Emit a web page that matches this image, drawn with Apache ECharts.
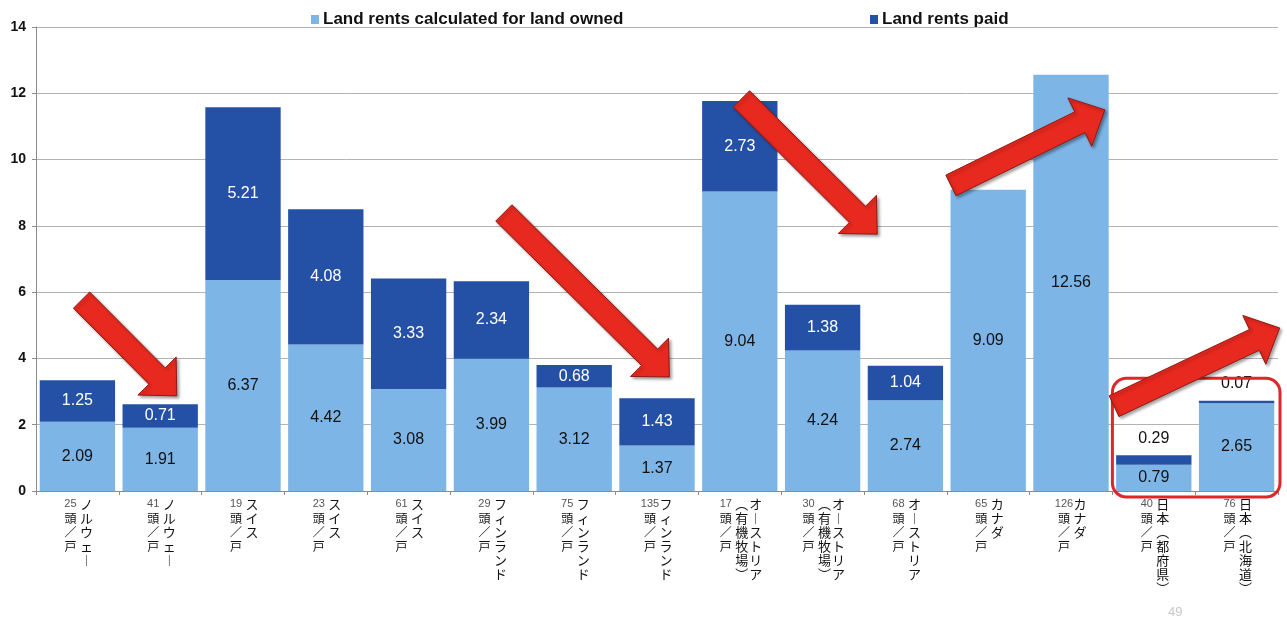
<!DOCTYPE html>
<html>
<head>
<meta charset="utf-8">
<script src="https://cdn.jsdelivr.net/npm/echarts@6/dist/echarts.min.js"></script>
<style>
  html, body { margin: 0; padding: 0; background: #ffffff; }
  #main { width: 1287px; height: 640px; }
</style>
</head>
<body>
<div id="main"></div>
<script>
// Herd size (head per farm) and country for each bar
const herds = ['25', '41', '19', '23', '61', '29', '75', '135', '17', '30', '68', '65', '126', '40', '76'];
const countries = ['ノルウェー', 'ノルウェー', 'スイス', 'スイス', 'スイス', 'フィンランド', 'フィンランド', 'フィンランド',
  'オーストリア', 'オーストリア', 'オーストリア', 'カナダ', 'カナダ', '日本（都府県）', '日本（北海道）'];
const notes = ['', '', '', '', '', '', '', '', '（有機牧場）', '（有機牧場）', '', '', '', '', ''];

// Land rents per unit
const landOwned = [2.09, 1.91, 6.37, 4.42, 3.08, 3.99, 3.12, 1.37, 9.04, 4.24, 2.74, 9.09, 12.56, 0.79, 2.65];
const rentsPaid = [1.25, 0.71, 5.21, 4.08, 3.33, 2.34, 0.68, 1.43, 2.73, 1.38, 1.04, 0, 0, 0.29, 0.07];

const seriesNames = ['Land rents calculated for land owned', 'Land rents paid'];
const yMin = 0, yMax = 14, yStep = 2;

// Thin segments whose value is written above the bar
const labelAbove = [13, 14];

// Trend arrows: [category position, value] of tail and tip
const arrows = [
  { from: [0.05, 5.76], to: [1.2, 2.87] },
  { from: [5.15, 8.39], to: [7.15, 3.44] },
  { from: [8.02, 11.83], to: [9.66, 7.75] },
  { from: [10.55, 9.22], to: [12.41, 11.5] },
  { from: [12.52, 2.56], to: [14.52, 4.92] }
];

const categories = herds.map((h, i) => h + '頭／戸 ' + countries[i] + notes[i]);

// Vertical presentation forms for stacked Japanese text
const VERT = { 'ー': '︱', '（': '︵', '）': '︶' };
const toCol = s => Array.from(s).map(c => VERT[c] || c);

function verticalLabel(i) {
  const numCol = [herds[i], '頭', '／', '戸'];
  const noteCol = toCol(notes[i]);
  const nameCol = toCol(countries[i]);
  const rows = Math.max(numCol.length, noteCol.length, nameCol.length);
  const lines = [];
  for (let k = 0; k < rows; k++) {
    let s = k === 0 ? '{num|' + numCol[0] + '}' : '{unit|' + (numCol[k] || ' ') + '}';
    if (noteCol.length) s += '{note|' + (noteCol[k] || ' ') + '}';
    s += '{name|' + (nameCol[k] || ' ') + '}';
    lines.push(s);
  }
  return lines.join('\n');
}

const chart = echarts.init(document.getElementById('main'));
const jp = '"Noto Sans CJK JP", sans-serif';
const latin = '"Liberation Sans", Arial, sans-serif';

const valueFmt = p => (p.value ? Number(p.value).toFixed(2) : '');

const legendText = { fontFamily: latin, fontWeight: 'bold', fontSize: 17, color: '#111', padding: [0, 0, 0, -1] };

chart.setOption({
  backgroundColor: '#ffffff',
  animation: false,
  color: ['#7db5e6', '#2451a6'],
  legend: [
    {
      left: 306, top: 6, itemWidth: 8, itemHeight: 9, icon: 'rect',
      data: [seriesNames[0]], textStyle: legendText
    },
    {
      left: 865, top: 6, itemWidth: 8, itemHeight: 9, icon: 'rect',
      data: [seriesNames[1]], textStyle: legendText
    }
  ],
  grid: { left: 36, right: 9, top: 27, bottom: 149, containLabel: false },
  xAxis: {
    type: 'category',
    data: categories,
    axisLine: { lineStyle: { color: '#8c8c8c' } },
    axisTick: { show: true, length: 4, lineStyle: { color: '#8c8c8c' } },
    axisLabel: {
      interval: 0,
      margin: 6,
      formatter: (v, i) => verticalLabel(i),
      rich: {
        num: { fontFamily: latin, fontSize: 11, color: '#555', width: 18, align: 'center', lineHeight: 14 },
        unit: { fontFamily: jp, fontSize: 12, color: '#111', width: 18, align: 'center', lineHeight: 14 },
        note: { fontFamily: jp, fontSize: 13, color: '#111', width: 14, align: 'center', lineHeight: 14 },
        name: { fontFamily: jp, fontSize: 13, color: '#111', width: 14, align: 'center', lineHeight: 14 }
      }
    }
  },
  yAxis: {
    type: 'value',
    min: yMin, max: yMax, interval: yStep,
    axisLine: { show: true, lineStyle: { color: '#8c8c8c' } },
    axisTick: { show: true, length: 4, lineStyle: { color: '#8c8c8c' } },
    axisLabel: { fontFamily: latin, fontWeight: 'bold', fontSize: 14, color: '#111', margin: 10 },
    splitLine: { lineStyle: { color: '#b3b3b3' } }
  },
  series: [
    {
      name: seriesNames[0],
      type: 'bar',
      stack: 'rent',
      barCategoryGap: '9%',
      data: landOwned,
      label: {
        show: true, position: 'inside', formatter: valueFmt,
        fontFamily: latin, fontSize: 16, color: '#111'
      }
    },
    {
      name: seriesNames[1],
      type: 'bar',
      stack: 'rent',
      barCategoryGap: '9%',
      data: rentsPaid.map((v, i) => labelAbove.includes(i)
        ? { value: v, label: { position: 'top', color: '#111', distance: 9 } }
        : v),
      label: {
        show: true, position: 'inside', formatter: valueFmt,
        fontFamily: latin, fontSize: 16, color: '#ffffff'
      }
    }
  ]
});

// Overlay: trend arrows, highlight frame around the Japan bars, page number
function arrowPoints(tail, tip) {
  const dx = tip[0] - tail[0], dy = tip[1] - tail[1];
  const len = Math.hypot(dx, dy);
  const ux = dx / len, uy = dy / len;
  const nx = -uy, ny = ux;
  const sw = 11.5, hw = 27, hl = 28;
  const bx = tip[0] - ux * hl, by = tip[1] - uy * hl;
  return [
    [tail[0] + nx * sw, tail[1] + ny * sw],
    [bx + nx * sw, by + ny * sw],
    [bx + nx * hw, by + ny * hw],
    [tip[0], tip[1]],
    [bx - nx * hw, by - ny * hw],
    [bx - nx * sw, by - ny * sw],
    [tail[0] - nx * sw, tail[1] - ny * sw]
  ];
}

function drawOverlay() {
  const x0 = chart.convertToPixel({ xAxisIndex: 0 }, categories[0]);
  const x1 = chart.convertToPixel({ xAxisIndex: 0 }, categories[1]);
  const step = x1 - x0;
  const px = pos => x0 + pos * step;
  const py = v => chart.convertToPixel({ yAxisIndex: 0 }, v);
  const toPx = p => [px(p[0]), py(p[1])];

  const elements = [];

  // frame around the two Japan bars
  const fl = px(12.5), fr = px(14.5) + 2;
  const ft = py(3.4), fb = py(0) + 6;
  elements.push({
    type: 'rect', z: 100,
    shape: { x: fl, y: ft, width: fr - fl, height: fb - ft, r: 14 },
    style: { fill: 'none', stroke: '#e0262a', lineWidth: 3 }
  });

  arrows.forEach(a => {
    elements.push({
      type: 'polygon', z: 110,
      shape: { points: arrowPoints(toPx(a.from), toPx(a.to)) },
      style: {
        fill: '#e8291f', stroke: '#8e1a14', lineWidth: 1,
        shadowBlur: 3, shadowOffsetX: 2, shadowOffsetY: 2, shadowColor: 'rgba(0,0,0,0.35)'
      }
    });
  });

  elements.push({
    type: 'text', z: 100, left: 1168, top: 606,
    style: { text: '49', fill: '#c8c8c8', font: '13px "Liberation Sans", Arial, sans-serif' }
  });

  chart.setOption({ graphic: { elements } });
}

drawOverlay();
</script>
</body>
</html>
